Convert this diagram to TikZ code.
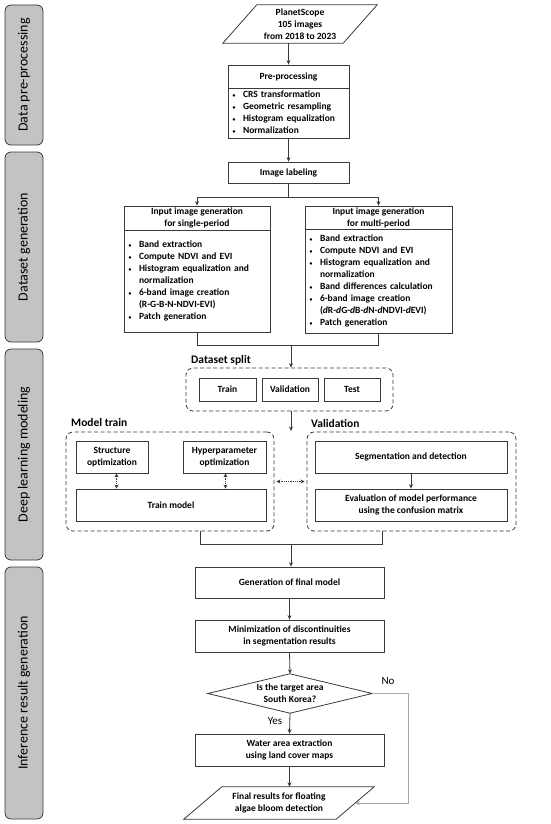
\documentclass[tikz,border=0pt]{standalone}
\usepackage{fontspec}
\usepackage{graphicx}
\setmainfont{Carlito}
\usetikzlibrary{arrows.meta}
\definecolor{edge}{HTML}{3A3A3A}
\definecolor{sidefill}{HTML}{C3C3C3}
\definecolor{noline}{HTML}{A6A6A6}
\tikzset{
 box/.style={draw=edge, line width=0.8pt, fill=white, font=\fontsize{9.5}{12}\selectfont\bfseries, align=center, inner sep=0pt},
 listbox/.style={box, align=left, inner xsep=4pt},
 plain/.style={inner sep=0pt, font=\fontsize{9.5}{12}\selectfont\bfseries, align=center},
 sidebox/.style={draw=edge, line width=0.8pt, fill=sidefill, rounded corners=6pt, minimum height=38pt, inner sep=0pt, rotate=90, font=\fontsize{14}{16}\selectfont},
 grp/.style={draw=edge, line width=0.8pt, dash pattern=on 4pt off 2.5pt, rounded corners=7pt, inner sep=0pt},
 grplabel/.style={font=\fontsize{11.5}{13}\selectfont\bfseries, anchor=west, inner sep=0pt},
 yn/.style={font=\fontsize{11}{13}\selectfont, inner sep=0pt},
 ln/.style={draw=edge, line width=0.8pt},
 arr/.style={ln, -{Stealth[length=4.5pt,width=4pt]}},
 dbl/.style={ln, densely dotted, {Stealth[length=4pt,width=4pt]}-{Stealth[length=4pt,width=4pt]}},
 noarr/.style={draw=noline, line width=0.8pt, -{Stealth[length=4.5pt,width=4pt,fill=edge]}},
}
\newcommand{\blt}{\makebox[4pt][c]{\scalebox{0.6}{\textbullet}}}
\begin{document}
\begin{tikzpicture}[x=1pt,y=-1pt]
\useasboundingbox (0,0) rectangle (550,824);

% side bands
\node[sidebox, minimum width=140pt] (s1) at (24,75) {Data pre-processing};
\node[sidebox, minimum width=190pt] (s2) at (24,247) {Dataset generation};
\node[sidebox, minimum width=211pt] (s3) at (24,454.5) {Deep learning modeling};
\node[sidebox, minimum width=252pt] (s4) at (24,693) {Inference result generation};

% input
\node[plain, minimum width=120pt, minimum height=38pt] (ps) at (300,24) {PlanetScope\\105 images\\from 2018 to 2023};
\draw[ln] ([xshift=-17pt]ps.south west) -- ([xshift=17pt]ps.north west) -- ([xshift=17pt]ps.north east) -- ([xshift=-17pt]ps.south east) -- cycle;

% pre-processing
\node[box, minimum width=121pt, minimum height=23pt] (pret) at (288.5,76.5) {Pre-processing};
\node[listbox, minimum width=121pt, minimum height=50pt, text width=113pt] (prel) at (288.5,113) {%
\begin{tabular}{@{}l@{\hspace{7pt}}l@{}}
\blt & CRS transformation\\
\blt & Geometric resampling\\
\blt & Histogram equalization\\
\blt & Normalization
\end{tabular}};

\node[box, minimum width=121pt, minimum height=21pt] (lab) at (288.5,172.5) {Image labeling};

% single / multi period
\node[box, minimum width=146pt, minimum height=24pt] (lt) at (197,218) {Input image generation\\for single-period};
\node[listbox, minimum width=146pt, minimum height=102pt, text width=138pt] (ll) at (197,281) {%
\begin{tabular}{@{}l@{\hspace{7pt}}l@{}}
\blt & Band extraction\\
\blt & Compute NDVI and EVI\\
\blt & Histogram equalization and\\
 & normalization\\
\blt & 6-band image creation\\
 & (R-G-B-N-NDVI-EVI)\\
\blt & Patch generation
\end{tabular}};
\node[box, minimum width=147pt, minimum height=23pt] (rt) at (378.5,217.5) {Input image generation\\for multi-period};
\node[listbox, minimum width=147pt, minimum height=104pt, text width=139pt] (rl) at (378.5,281) {%
\begin{tabular}{@{}l@{\hspace{7pt}}l@{}}
\blt & Band extraction\\
\blt & Compute NDVI and EVI\\
\blt & Histogram equalization and\\
 & normalization\\
\blt & Band differences calculation\\
\blt & 6-band image creation\\
 & (\textit{d}R-\textit{d}G-\textit{d}B-\textit{d}N-\textit{d}NDVI-\textit{d}EVI)\\
\blt & Patch generation
\end{tabular}};

% dataset split
\node[grplabel] (dslab) at (191,360) {Dataset split};
\node[grp, minimum width=207pt, minimum height=43pt] (dsg) at (289.5,389.5) {};
\node[box, minimum width=57pt, minimum height=23pt] (tr) at (227.5,389.5) {Train};
\node[box, minimum width=56pt, minimum height=23pt] (va) at (290,389.5) {Validation};
\node[box, minimum width=56pt, minimum height=23pt] (te) at (352,389.5) {Test};

% model train
\node[grplabel] (mtlab) at (71,423) {Model train};
\node[grp, minimum width=208pt, minimum height=99pt] (mtg) at (170,481.5) {};
\node[box, minimum width=72pt, minimum height=32pt] (so) at (112,457) {Structure\\optimization};
\node[box, minimum width=83pt, minimum height=32pt] (ho) at (224.5,457) {Hyperparameter\\optimization};
\node[box, minimum width=190pt, minimum height=32pt] (tm) at (171,505) {Train model};

% validation
\node[grplabel] (vlab) at (311,423) {Validation};
\node[grp, minimum width=209pt, minimum height=99pt] (vg) at (411.5,481.5) {};
\node[box, minimum width=192pt, minimum height=32pt] (sd) at (411,457) {Segmentation and detection};
\node[box, minimum width=192pt, minimum height=32pt] (ev) at (411,505) {Evaluation of model performance\\using the confusion matrix};

% inference
\node[box, minimum width=189pt, minimum height=31pt] (fm) at (289.5,582.5) {Generation of final model};
\node[box, minimum width=189pt, minimum height=32pt] (mn) at (289.5,636) {Minimization of discontinuities\\in segmentation results};
\node[plain, minimum width=164pt, minimum height=39pt] (dia) at (290,693.5) {Is the target area\\South Korea?};
\draw[ln] (dia.west) -- (dia.north) -- (dia.east) -- (dia.south) -- cycle;
\node[box, minimum width=189pt, minimum height=32pt] (wa) at (289.5,750) {Water area extraction\\using land cover maps};
\node[plain, minimum width=152pt, minimum height=32pt] (fin) at (279,803) {Final results for floating\\algae bloom detection};
\draw[ln] ([xshift=-19pt]fin.south west) -- ([xshift=19pt]fin.north west) -- ([xshift=19pt]fin.north east) -- ([xshift=-19pt]fin.south east) -- cycle;
\node[yn] (no) at (388,681) {No};
\node[yn] (yes) at (275,721) {Yes};

% connectors
\draw[arr] (pret.north |- ps.south) -- (pret.north);
\draw[arr] (prel.south) -- (lab.north);
\coordinate (j1) at ([yshift=-14pt]lab.south);
\draw[ln] (lab.south) -- (j1);
\draw[arr] (j1) -| (lt.north);
\draw[arr] (j1) -| (rt.north);
\coordinate (j2) at (291,345);
\draw[ln] (ll.south) |- (j2);
\draw[ln] (rl.south) |- (j2);
\draw[arr] (j2) -- (j2 |- dsg.north);
\coordinate (j3) at (291,431);
\draw[arr] (j3 |- dsg.south) -- (j3);
\draw[dbl] ([xshift=4.5pt]so.south) -- ([xshift=4.5pt]so.south |- tm.north);
\draw[dbl] ([xshift=1pt]ho.south) -- ([xshift=1pt]ho.south |- tm.north);
\draw[dbl] ([xshift=2pt]mtg.east) -- ([xshift=-2pt]vg.west);
\draw[arr] (sd.south) -- (ev.north);
\coordinate (j4) at (291,544);
\draw[ln] ([xshift=30pt]mtg.south) |- (j4);
\draw[ln] ([xshift=-29.5pt]vg.south) |- (j4);
\draw[arr] (j4) -- (j4 |- fm.north);
\draw[arr] (fm.south) -- (mn.north);
\draw[arr] (mn.south) -- (dia.north);
\draw[arr] (dia.south) -- (wa.north);
\draw[arr] (wa.south) -- (wa.south |- fin.north);
\draw[noarr] (dia.east) -- ++(36,0) |- (fin.east);
\end{tikzpicture}
\end{document}
